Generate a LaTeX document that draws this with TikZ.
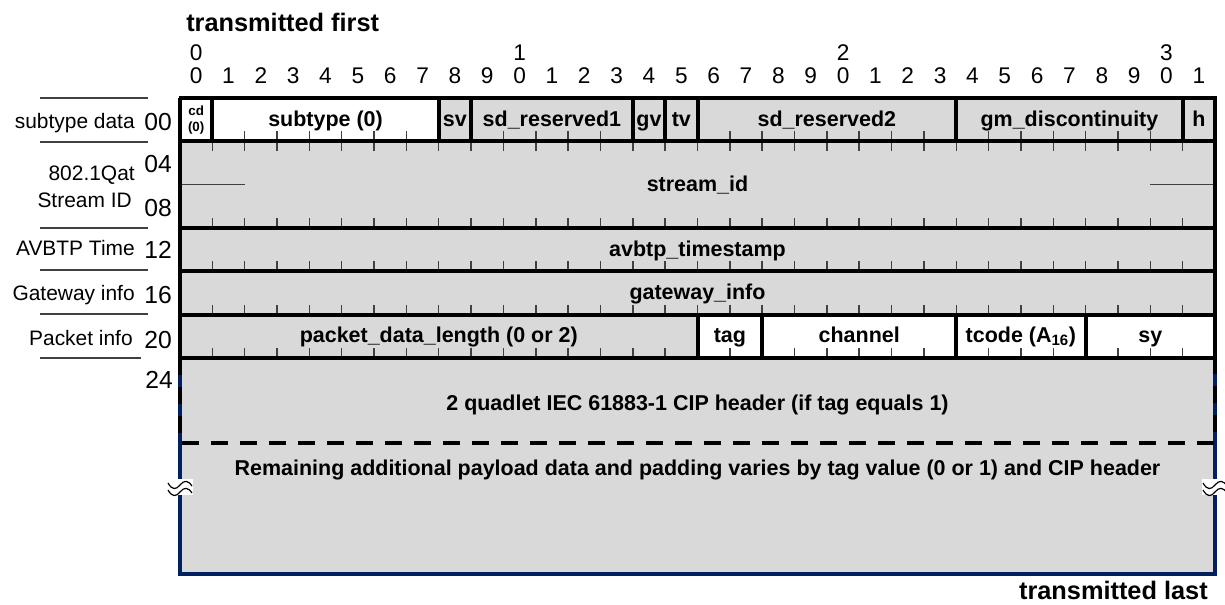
\documentclass[tikz,border=0pt]{standalone}
\usepackage{fontspec}
\setmainfont{Liberation Sans}
\usetikzlibrary{positioning}
\definecolor{cellgray}{HTML}{D9D9D9}
\definecolor{framenavy}{HTML}{002060}
\definecolor{tickgray}{HTML}{404040}
\def\bw{32.34375}
\tikzset{
  fieldtext/.style={font=\bfseries\fontsize{16.1}{19}\selectfont, inner sep=0pt, anchor=base},
  rowlabel/.style={font=\fontsize{15.7}{18}\selectfont, inner sep=0pt, anchor=base east},
  offsetnum/.style={font=\fontsize{18.5}{21}\selectfont, inner sep=0pt, anchor=base east},
  bitnum/.style={font=\fontsize{17}{20}\selectfont, inner sep=0pt, anchor=base},
  edgetext/.style={font=\bfseries\fontsize{19}{22}\selectfont, inner sep=0pt},
  thickline/.style={line width=3pt},
  tickline/.style={line width=1.1pt, tickgray},
  dashline/.style={line width=3pt, dash pattern=on 12.75pt off 9pt}
}
\newcommand{\wavebreak}[1]{%
  \begin{scope}[shift={#1}]
    \fill [white] (-13,-8) rectangle (13,8);
    \draw [line width=0.9pt] (-12,-4) .. controls (-8,3) and (-4,3) .. (0,-2) .. controls (4,-7) and (8,-7) .. (12,-1);
    \draw [line width=0.9pt] (-12,3) .. controls (-8,10) and (-4,10) .. (0,5) .. controls (4,0) and (8,0) .. (12,6);
  \end{scope}}
\begin{document}
\begin{tikzpicture}[x=0.75pt,y=-0.75pt]
  \useasboundingbox (0,0) rectangle (1225,604);
  % cell backgrounds
  \fill [cellgray] (180,98) rectangle (1215,574);
  \fill [white] (180,98) rectangle ({180+8*\bw},141.3);
  \fill [white] ({180+16*\bw},314.6) rectangle (1215,358);
  % bit ticks
  \foreach \k in {1,...,31} {
    \draw [tickline] ({180+\k*\bw},141.3) -- +(0,-10);
    \draw [tickline] ({180+\k*\bw},141.3) -- +(0,10);
    \draw [tickline] ({180+\k*\bw},228) -- +(0,-10);
    \draw [tickline] ({180+\k*\bw},271.3) -- +(0,-10);
    \draw [tickline] ({180+\k*\bw},314.6) -- +(0,-10);
    \draw [tickline] ({180+\k*\bw},358) -- +(0,-10);
  }
  \draw [tickline] (180,184.6) -- (245,184.6);
  \draw [tickline] (1150,184.6) -- (1215,184.6);
  % quadlet borders
  \foreach \y in {98,141.3,228,271.3,314.6,358}
    \draw [thickline] (178.5,\y) -- (1216.5,\y);
  \draw [thickline] (180,98) -- (180,358);
  \draw [thickline] (1215,98) -- (1215,358);
  \foreach \k in {1,8,9,14,15,16,24,31}
    \draw [thickline] ({180+\k*\bw},98) -- ({180+\k*\bw},141.3);
  \foreach \k in {16,18,24,28}
    \draw [thickline] ({180+\k*\bw},314.6) -- ({180+\k*\bw},358);
  % payload area
  \draw [line width=3pt, framenavy] (180,358) -- (180,574) -- (1215,574) -- (1215,358);
  \draw [dashline] (180,358) -- (180,443) -- (1215,443) -- (1215,358);
  \wavebreak{(180,487)}
  \wavebreak{(1215,487)}
  % bit numbers
  \foreach \k in {0,...,31} {
    \pgfmathtruncatemacro\d{mod(\k,10)}
    \node [bitnum] (bitlo-\k) at ({180+(\k+0.5)*\bw},83) {\d};
  }
  \foreach \k/\d in {0/0,10/1,20/2,30/3}
    \node [bitnum] (bithi-\k) at ({180+(\k+0.5)*\bw},60) {\d};
  \node [edgetext, anchor=base west] (first) at (186,31) {transmitted first};
  \node [edgetext, anchor=base east] (last) at (1208,599) {transmitted last};
  % row labels
  \foreach \y in {98,142,228,270,314}
    \draw [tickline] (40,\y) -- (148,\y);
  \draw [tickline] (40,358) -- (141,358);
  \node [rowlabel] (lab00) at (135,128) {subtype data};
  \node [rowlabel] (lab04) at (135,180) {802.1Qat};
  \node [rowlabel] (lab08) at (132,207) {Stream ID};
  \node [rowlabel] (lab12) at (135,255) {AVBTP Time};
  \node [rowlabel] (lab16) at (135,300) {Gateway info};
  \node [rowlabel] (lab20) at (133,345) {Packet info};
  \node [offsetnum] (off00) at (172,130) {00};
  \node [offsetnum] (off04) at (172,172) {04};
  \node [offsetnum] (off08) at (172,216) {08};
  \node [offsetnum] (off12) at (172,258) {12};
  \node [offsetnum] (off16) at (172,303) {16};
  \node [offsetnum] (off20) at (172,348) {20};
  \node [offsetnum] (off24) at (173,388) {24};
  % fields
  \node [font=\bfseries\fontsize{10}{11.5}\selectfont, inner sep=0pt, align=center] (cd) at ({180+0.5*\bw},120) {cd\\(0)};
  \node [fieldtext] (subtype) at ({180+4.5*\bw},126) {subtype (0)};
  \node [fieldtext] (sv) at ({180+8.5*\bw},126) {sv};
  \node [fieldtext] (sdres1) at ({180+11.5*\bw},126) {sd\_reserved1};
  \node [fieldtext] (gv) at ({180+14.5*\bw},126) {gv};
  \node [fieldtext] (tv) at ({180+15.5*\bw},126) {tv};
  \node [fieldtext] (sdres2) at ({180+20*\bw},126) {sd\_reserved2};
  \node [fieldtext] (gmdisc) at ({180+27.5*\bw},126) {gm\_discontinuity};
  \node [fieldtext] (h) at ({180+31.5*\bw},126) {h};
  \node [fieldtext] (streamid) at ({180+16*\bw},191) {stream\_id};
  \node [fieldtext] (avbtp) at ({180+16*\bw},256) {avbtp\_timestamp};
  \node [fieldtext] (gateway) at ({180+16*\bw},299) {gateway\_info};
  \node [fieldtext] (pdlength) at ({180+8*\bw},342.5) {packet\_data\_length (0 or 2)};
  \node [fieldtext] (tag) at ({180+17*\bw},342.5) {tag};
  \node [fieldtext] (channel) at ({180+21*\bw},342.5) {channel};
  \node [fieldtext] (tcode) at ({180+26*\bw},342.5) {tcode (A\textsubscript{16})};
  \node [fieldtext] (sy) at ({180+30*\bw},342.5) {sy};
  \node [fieldtext] (cipheader) at ({180+16*\bw},410) {2 quadlet IEC 61883-1 CIP header (if tag equals 1)};
  \node [fieldtext] (payload) at ({180+16*\bw},475) {Remaining additional payload data and padding varies by tag value (0 or 1) and CIP header};
\end{tikzpicture}
\end{document}
